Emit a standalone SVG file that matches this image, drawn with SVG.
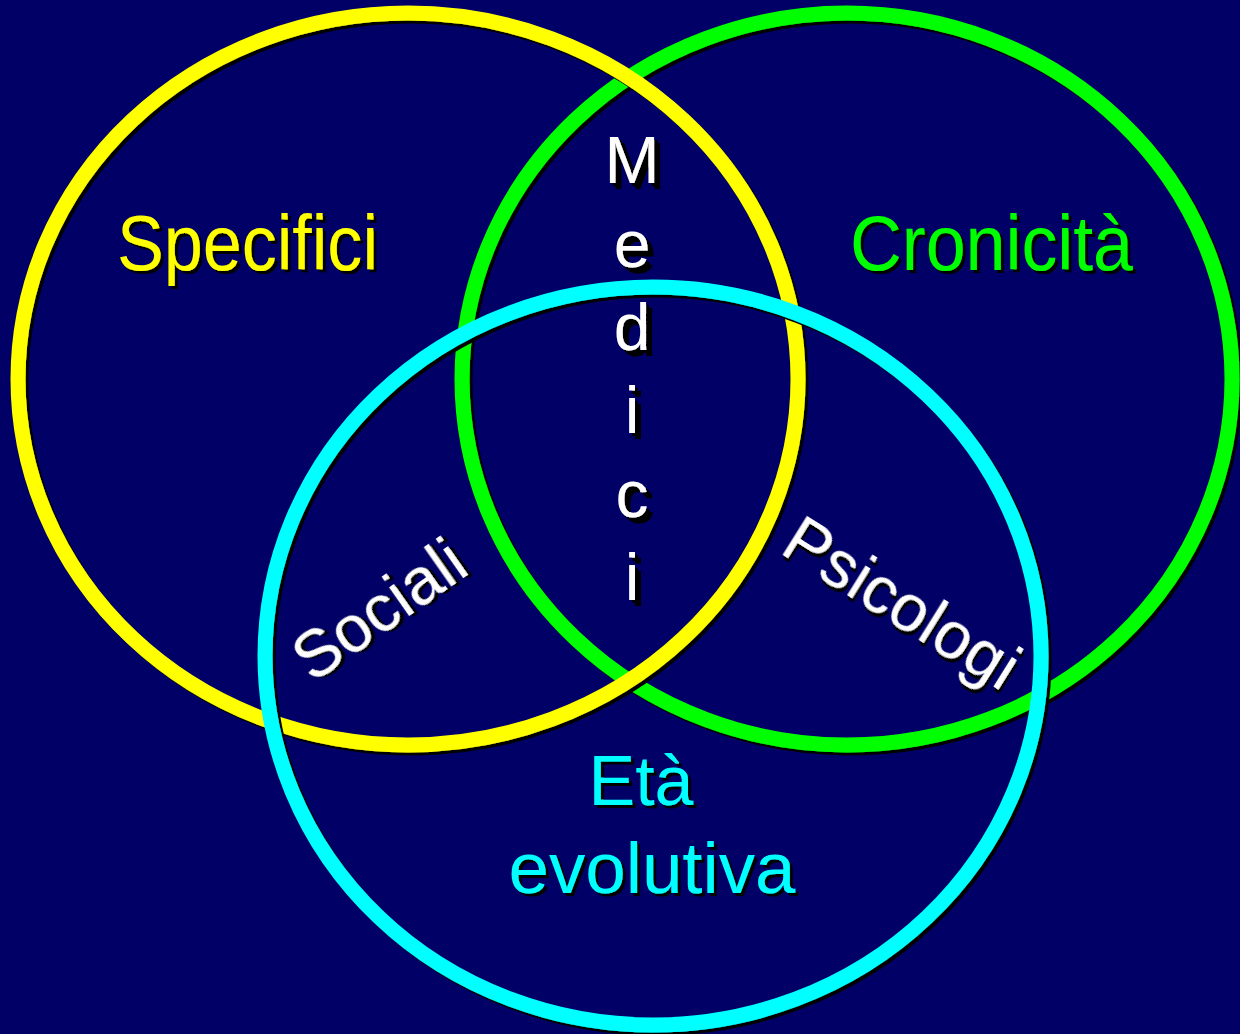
<svg xmlns="http://www.w3.org/2000/svg" width="1240" height="1034" viewBox="0 0 1240 1034">
<style>
.ring{fill:none;stroke-width:15;filter:url(#sh)}
.t{font-family:"Liberation Sans",Arial,sans-serif;filter:url(#sh)}
.w{fill:#ffffff}
</style>
<defs>
<filter id="sh" x="-10%" y="-10%" width="120%" height="120%">
<feDropShadow dx="3" dy="3" stdDeviation="0" flood-color="#000000" flood-opacity="1"/>
</filter>
</defs>
<rect width="1240" height="1034" fill="#000066"/>
<g id="green-circle">
<ellipse class="ring" cx="847" cy="379" rx="385" ry="366" stroke="#00ff00"/>
</g>
<g id="yellow-circle">
<ellipse class="ring" cx="408" cy="379" rx="390" ry="366" stroke="#ffff00"/>
</g>
<g id="cyan-circle">
<ellipse class="ring" cx="653" cy="656" rx="388" ry="369" stroke="#00ffff"/>
</g>
<g id="connectors"></g>
<g id="label-specifici">
<text class="t" x="117" y="270" font-size="77" fill="#ffff00" textLength="261" lengthAdjust="spacingAndGlyphs">Specifici</text>
</g>
<g id="label-cronicita">
<text class="t" x="850" y="270" font-size="77" fill="#00ff00" textLength="283" lengthAdjust="spacingAndGlyphs">Cronicità</text>
</g>
<g id="label-medici" class="t w" font-size="66" text-anchor="middle">
<text class="t w" x="632" y="183">M</text>
<text class="t w" x="632" y="267">e</text>
<text class="t w" x="632" y="350">d</text>
<text class="t w" x="632" y="433">i</text>
<text class="t w" x="632" y="517">c</text>
<text class="t w" x="632" y="600">i</text>
</g>
<g id="label-sociali">
<text class="t w" x="0" y="0" font-size="66" text-anchor="middle" transform="translate(392,628) rotate(-35)">Sociali</text>
</g>
<g id="label-psicologi">
<text class="t w" x="0" y="0" font-size="66" text-anchor="middle" transform="translate(890,622) rotate(32)">Psicologi</text>
</g>
<g id="label-eta">
<text class="t" x="641" y="805" font-size="70" fill="#00ffff" text-anchor="middle">Età</text>
<text class="t" x="652" y="893" font-size="72" fill="#00ffff" text-anchor="middle" textLength="287" lengthAdjust="spacingAndGlyphs">evolutiva</text>
</g>
</svg>
